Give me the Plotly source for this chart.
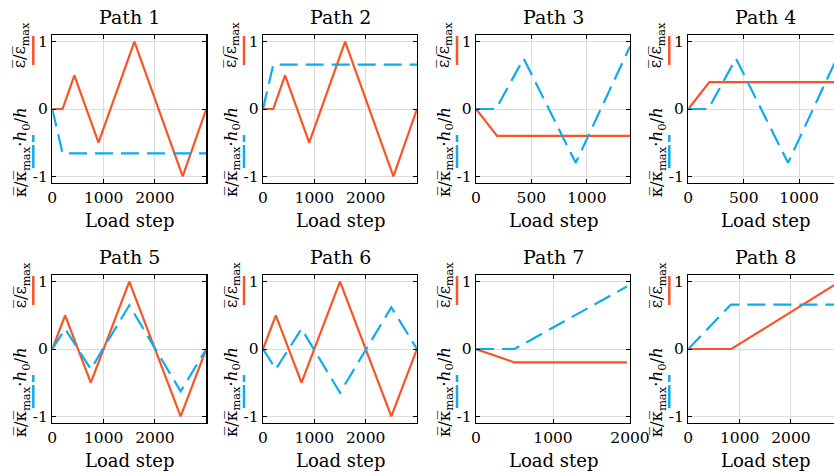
import plotly.graph_objects as go

# ---------------- data ----------------
titles = ["Path 1", "Path 2", "Path 3", "Path 4", "Path 5", "Path 6", "Path 7", "Path 8"]

p1_eps_x = [0, 200, 430, 900, 1600, 2540, 3000]
p1_eps_y = [0, 0, 0.5, -0.5, 1, -1, 0]
p1_kap_x = [0, 200, 3000]
p1_kap_y = [0, -0.66, -0.66]

p2_eps_x = [0, 200, 430, 900, 1600, 2540, 3000]
p2_eps_y = [0, 0, 0.5, -0.5, 1, -1, 0]
p2_kap_x = [0, 200, 3000]
p2_kap_y = [0, 0.66, 0.66]

p3_eps_x = [0, 190, 1390]
p3_eps_y = [0, -0.4, -0.4]
p3_kap_x = [0, 180, 430, 900, 1390]
p3_kap_y = [0, 0, 0.75, -0.8, 0.93]

p4_eps_x = [0, 190, 1390]
p4_eps_y = [0, 0.4, 0.4]
p4_kap_x = [0, 180, 430, 900, 1390]
p4_kap_y = [0, 0, 0.75, -0.8, 0.93]

p5_eps_x = [0, 250, 750, 1500, 2500, 3000]
p5_eps_y = [0, 0.5, -0.5, 1, -1, 0]
p5_kap_x = [0, 250, 750, 1500, 2500, 3000]
p5_kap_y = [0, 0.3, -0.3, 0.65, -0.63, 0]

p6_eps_x = [0, 250, 750, 1500, 2500, 3000]
p6_eps_y = [0, 0.5, -0.5, 1, -1, 0]
p6_kap_x = [0, 250, 750, 1500, 2500, 3000]
p6_kap_y = [0, -0.3, 0.3, -0.65, 0.62, 0]

p7_eps_x = [0, 500, 1960]
p7_eps_y = [0, -0.2, -0.2]
p7_kap_x = [0, 500, 1960]
p7_kap_y = [0, 0, 0.93]

p8_eps_x = [0, 840, 2950]
p8_eps_y = [0, 0, 1]
p8_kap_x = [0, 830, 3000]
p8_kap_y = [0, 0.66, 0.66]

x_max = [3000, 3000, 1390, 1390, 3000, 3000, 2000, 3000]
x_ticks = [
    [0, 1000, 2000], [0, 1000, 2000], [0, 500, 1000], [0, 500, 1000],
    [0, 1000, 2000], [0, 1000, 2000], [0, 1000, 2000], [0, 1000, 2000],
]
y_ticks = [-1, 0, 1]
y_ticktext = ["-1", "0", "1"]

eps_x = [p1_eps_x, p2_eps_x, p3_eps_x, p4_eps_x, p5_eps_x, p6_eps_x, p7_eps_x, p8_eps_x]
eps_y = [p1_eps_y, p2_eps_y, p3_eps_y, p4_eps_y, p5_eps_y, p6_eps_y, p7_eps_y, p8_eps_y]
kap_x = [p1_kap_x, p2_kap_x, p3_kap_x, p4_kap_x, p5_kap_x, p6_kap_x, p7_kap_x, p8_kap_x]
kap_y = [p1_kap_y, p2_kap_y, p3_kap_y, p4_kap_y, p5_kap_y, p6_kap_y, p7_kap_y, p8_kap_y]

# ---------------- style ----------------
W, H = 834, 472
EPS_COLOR = "#FA5324"
KAP_COLOR = "#0DABEF"
FONT = "DejaVu Serif"
col_left = [52.3, 263.0, 476.0, 688.3]   # window pixels
ax_w = 154.0
row_top = [35.0, 275.0]
ax_h = 148.0


def px(xp):
    return xp / W


def py(yp):
    return 1 - yp / H


fig = go.Figure()
layout = dict(
    width=W, height=H,
    margin=dict(l=0, r=0, t=0, b=0, pad=0, autoexpand=False),
    paper_bgcolor="white", plot_bgcolor="white",
    showlegend=False,
    font=dict(family=FONT, size=15, color="black"),
)
annotations = []
shapes = []

BAR = "\u0305"

for i in range(8):
    r, c = divmod(i, 4)
    n = "" if i == 0 else str(i + 1)
    left = col_left[c]
    right = left + ax_w
    vis_right = min(right, W)
    top = row_top[r]
    bottom = top + ax_h
    xr = x_max[i] * (vis_right - left) / ax_w

    fig.add_trace(go.Scatter(x=eps_x[i], y=eps_y[i], mode="lines",
                             line=dict(color=EPS_COLOR, width=2.2),
                             xaxis="x" + n, yaxis="y" + n, hoverinfo="skip"))
    fig.add_trace(go.Scatter(x=kap_x[i], y=kap_y[i], mode="lines",
                             line=dict(color=KAP_COLOR, width=2.2, dash="18px,8px"),
                             xaxis="x" + n, yaxis="y" + n, hoverinfo="skip"))

    layout["xaxis" + n] = dict(
        domain=[px(left), min(px(vis_right), 1.0)], anchor="y" + n,
        range=[0, xr], tickvals=x_ticks[i], automargin=False,
        showgrid=True, gridcolor="#DCDCDC", gridwidth=1, zeroline=False,
        showline=True, linecolor="black", linewidth=1.3, mirror="ticks",
        ticks="inside", ticklen=4, tickcolor="black",
        tickfont=dict(family=FONT, size=15.5, color="black"),
    )
    layout["yaxis" + n] = dict(
        domain=[py(bottom), py(top)], anchor="x" + n,
        range=[-1.1, 1.1], tickvals=y_ticks, ticktext=y_ticktext, automargin=False,
        showgrid=True, gridcolor="#DCDCDC", gridwidth=1, zeroline=False,
        showline=True, linecolor="black", linewidth=1.3,
        mirror="ticks" if c < 3 else False,
        ticks="inside", ticklen=4, tickcolor="black",
        tickfont=dict(family=FONT, size=15.5, color="black"),
    )

    cx = (left + right) / 2
    annotations.append(dict(text=titles[i], x=px(cx), y=py(top - 18),
                            xref="paper", yref="paper", showarrow=False,
                            xanchor="center", yanchor="middle",
                            font=dict(family=FONT, size=19, color="black")))
    annotations.append(dict(text="Load step", x=px(cx), y=py(bottom + 37),
                            xref="paper", yref="paper", showarrow=False,
                            xanchor="center", yanchor="middle",
                            font=dict(family=FONT, size=18, color="black")))
    # y label pieces
    annotations.append(dict(text="ε" + BAR + "/ε" + BAR + "<sub>max</sub>",
                            x=px(left - 31), y=py(top + 10),
                            xref="paper", yref="paper", showarrow=False,
                            textangle=-90, xanchor="center", yanchor="middle",
                            font=dict(family=FONT, size=16, color="black")))
    annotations.append(dict(text="κ" + BAR + "/κ" + BAR
                            + "<sub>max</sub>·<i>h</i><sub>0</sub>/<i>h</i>",
                            x=px(left - 31), y=py(top + 117),
                            xref="paper", yref="paper", showarrow=False,
                            textangle=-90, xanchor="center", yanchor="middle",
                            font=dict(family=FONT, size=16.5, color="black")))
    bx = px(left - 19)
    shapes.append(dict(type="line", xref="paper", yref="paper",
                       x0=bx, x1=bx, y0=py(top + 1), y1=py(top + 30),
                       line=dict(color=EPS_COLOR, width=2.5)))
    shapes.append(dict(type="line", xref="paper", yref="paper",
                       x0=bx, x1=bx, y0=py(top + 100), y1=py(top + 107),
                       line=dict(color=KAP_COLOR, width=2.5)))
    shapes.append(dict(type="line", xref="paper", yref="paper",
                       x0=bx, x1=bx, y0=py(top + 110), y1=py(top + 133),
                       line=dict(color=KAP_COLOR, width=2.5)))

layout["annotations"] = annotations
layout["shapes"] = shapes
fig.update_layout(**layout)
fig.write_html(
    "out.html",
    config={"displayModeBar": False, "staticPlot": True},
    post_script="document.body.style.margin='0px';document.body.style.overflow='hidden';",
)
